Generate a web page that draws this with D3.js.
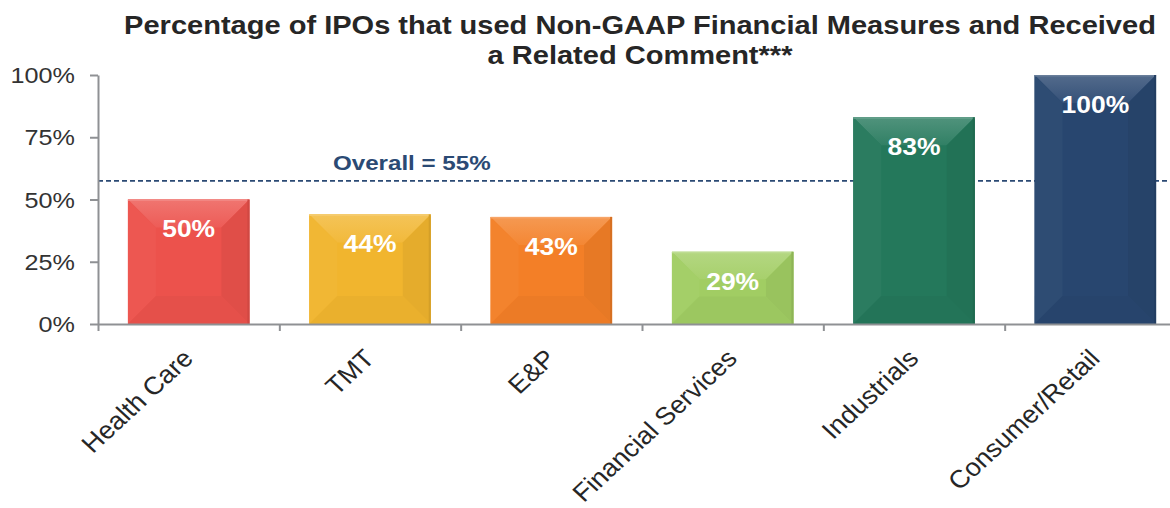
<!DOCTYPE html>
<html><head><meta charset="utf-8">
<script src="https://cdn.jsdelivr.net/npm/d3@7/dist/d3.min.js"></script>
<style>
html,body{margin:0;padding:0;background:#fff;}
svg{display:block;}
text{font-family:Arial,"Liberation Sans",Helvetica,sans-serif;}
</style></head>
<body>
<svg id="chart" width="1170" height="508"></svg>
<script>
// ---- data ----
const titleLines = ["Percentage of IPOs that used Non-GAAP Financial Measures and Received", "a Related Comment***"];
const categories = ["Health Care", "TMT", "E&P", "Financial Services", "Industrials", "Consumer/Retail"];
const values = [0.50, 0.44, 0.43, 0.29, 0.83, 1.00];
const valueLabels = ["50%", "44%", "43%", "29%", "83%", "100%"];
const barColors = ["#ec524c", "#f1b52e", "#f37f27", "#a1cd63", "#24785b", "#28466f"];
const yTicks = [0, 0.25, 0.5, 0.75, 1.0];
const yTickLabels = ["0%", "25%", "50%", "75%", "100%"];
const overallLabel = "Overall = 55%";
const overallLineValue = 0.575; // where the dashed line is drawn in the picture

(function () {
// ---- layout ----
const svg = d3.select("#chart");
const pLeft = 98, pRight = 1186, pTop = 75, pBottom = 324;

const x = d3.scaleBand().domain(categories).range([pLeft, pRight]).paddingInner(0.33).paddingOuter(0.165);
const xEdge = d3.scaleLinear().domain([0, categories.length]).range([pLeft, pRight]);
const y = d3.scaleLinear().domain([0, 1]).range([pBottom, pTop]);

function stretchedText(g, tx, ty, str, opts) {
  const sx = opts.sx || 1.13;
  const t = g.append("text")
    .attr("transform", `translate(${tx},${ty}) scale(${sx},1)` + (opts.rotate ? ` rotate(${opts.rotate})` : ""))
    .attr("text-anchor", opts.anchor || "middle")
    .attr("font-size", opts.size)
    .attr("font-weight", opts.weight || "normal")
    .attr("fill", opts.fill || "#222")
    .text(str);
  if (opts.dy) t.attr("dy", opts.dy);
  return t;
}

// title
titleLines.forEach((l, i) => {
  stretchedText(svg, 640, 34 + i * 30, l, {size: 25.7, weight: "bold", fill: "#262626"});
});

// overall dashed line (behind bars)
svg.append("line")
  .attr("x1", pLeft).attr("x2", 1170)
  .attr("y1", y(overallLineValue)).attr("y2", y(overallLineValue))
  .attr("stroke", "#2b4a74").attr("stroke-width", 1.6)
  .attr("stroke-dasharray", "5,3");
stretchedText(svg, 333, 170, overallLabel, {size: 21, weight: "bold", fill: "#2b4a74", anchor: "start", sx: 1.15});

// bars with bevel
const bars = svg.append("g");
const defs = svg.append("defs");
categories.forEach((c, i) => {
  const x0 = x(c), w = x.bandwidth();
  const y0 = y(values[i]), y1 = y(0), h = y1 - y0;
  const b = Math.min(28, h * 0.38, w * 0.3);
  const base = d3.color(barColors[i]);
  const lighter = (k) => d3.interpolateRgb(base, "#ffffff")(k);
  const darker = (k) => d3.interpolateRgb(base, "#000000")(k);
  const gid = "topgrad" + i;
  const grad = defs.append("linearGradient").attr("id", gid).attr("x1", 0).attr("y1", 0).attr("x2", 0).attr("y2", 1);
  grad.append("stop").attr("offset", "0%").attr("stop-color", lighter(0.2));
  grad.append("stop").attr("offset", "100%").attr("stop-color", lighter(0.06));
  const g = bars.append("g");
  const poly = (pts, fill) => g.append("polygon").attr("points", pts.map(p => p.join(",")).join(" ")).attr("fill", fill);
  const x1 = x0 + w;
  g.append("rect").attr("x", x0).attr("y", y0).attr("width", w).attr("height", h).attr("fill", base.formatHex());
  poly([[x0, y0], [x1, y0], [x1 - b, y0 + b], [x0 + b, y0 + b]], `url(#${gid})`);
  poly([[x0, y0], [x0 + b, y0 + b], [x0 + b, y1 - b], [x0, y1]], lighter(0.03));
  poly([[x1, y0], [x1 - b, y0 + b], [x1 - b, y1 - b], [x1, y1]], darker(0.05));
  poly([[x0, y1], [x0 + b, y1 - b], [x1 - b, y1 - b], [x1, y1]], darker(0.03));
  g.append("rect").attr("x", x0).attr("y", y0).attr("width", w).attr("height", 1.5).attr("fill", lighter(0.3));
  g.append("rect").attr("x", x1 - 2).attr("y", y0).attr("width", 2).attr("height", h).attr("fill", darker(0.12));
  stretchedText(svg, x0 + w / 2, y0 + 29, valueLabels[i], {size: 24.5, weight: "bold", fill: "#ffffff", dy: "0.36em", sx: 1.08});
});

// axes
const axisColor = "#8f9194";
const yAxis = svg.append("g").attr("transform", `translate(${pLeft},0)`)
  .call(d3.axisLeft(y).tickValues(yTicks).tickFormat("").tickSize(8).tickSizeOuter(0));
const xAxis = svg.append("g").attr("transform", `translate(0,${pBottom})`)
  .call(d3.axisBottom(xEdge).tickValues(d3.range(0, categories.length + 1)).tickFormat("").tickSize(7).tickSizeOuter(0));
[yAxis, xAxis].forEach(a => {
  a.selectAll("path,line").attr("stroke", axisColor).attr("stroke-width", 2);
});

// y tick labels
yTicks.forEach((t, i) => {
  stretchedText(svg, 75, y(t), yTickLabels[i], {size: 22.5, fill: "#333", anchor: "end", dy: "0.36em", sx: 1.12});
});

// x labels rotated
categories.forEach(c => {
  stretchedText(svg, x(c) + x.bandwidth() / 2 + 6, 360, c, {size: 25, fill: "#262626", anchor: "end", rotate: -45, sx: 1.08});
});
})();
</script>
</body></html>
